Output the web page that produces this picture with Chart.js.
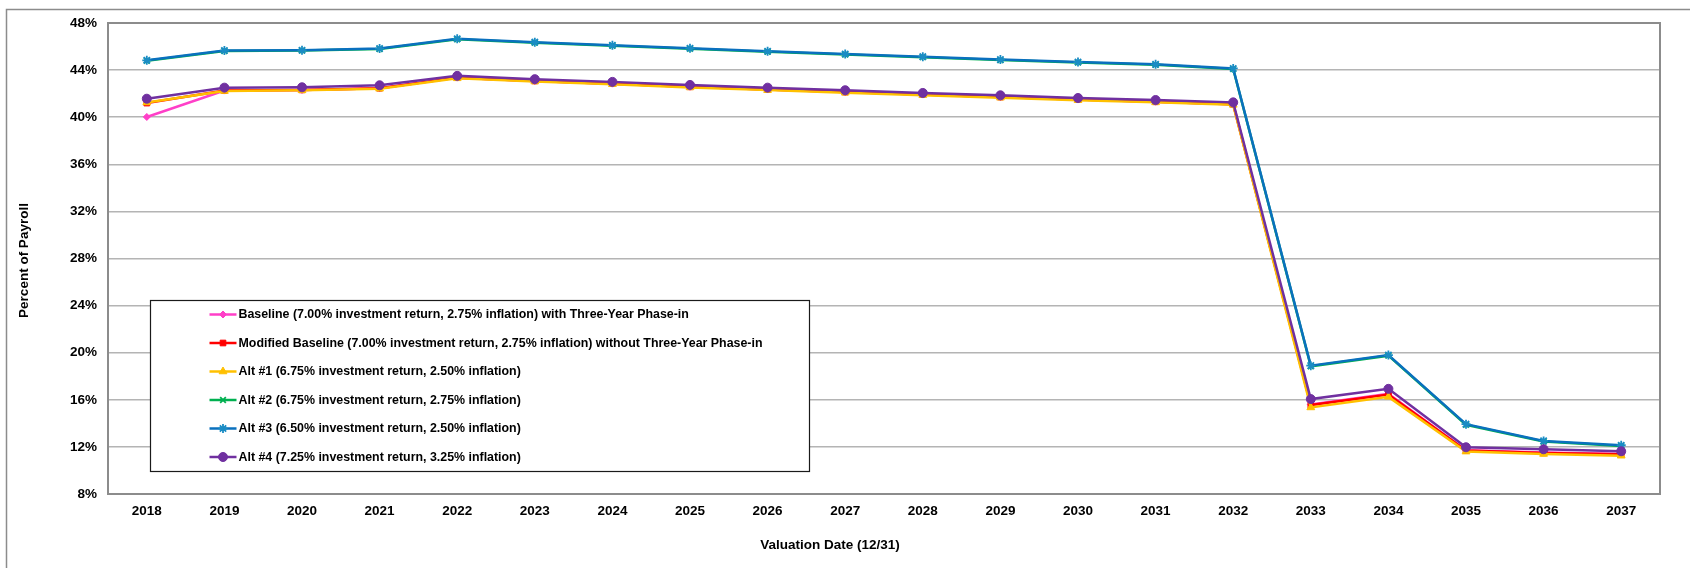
<!DOCTYPE html>
<html>
<head>
<meta charset="utf-8">
<script src="https://cdn.jsdelivr.net/npm/chart.js@4/dist/chart.umd.min.js"></script>
<style>
  html, body { margin: 0; padding: 0; background: #ffffff; }
  #wrap { width: 1690px; height: 568px; }
</style>
</head>
<body>
<div id="wrap"><canvas id="chart" width="1690" height="568"></canvas></div>
<script>
// Valuation years (12/31)
const categories = ['2018','2019','2020','2021','2022','2023','2024','2025','2026','2027',
                    '2028','2029','2030','2031','2032','2033','2034','2035','2036','2037'];

// Contribution rate, percent of payroll
const baseline = [40.02, 42.26, 42.32, 42.46, 43.36, 43.08, 42.85, 42.58, 42.35, 42.13,
                  41.92, 41.71, 41.50, 41.31, 41.10, 15.60, 16.50, 11.72, 11.52, 11.40];
const modifiedBaseline = [41.20, 42.26, 42.32, 42.46, 43.36, 43.08, 42.85, 42.58, 42.35, 42.13,
                          41.92, 41.71, 41.50, 41.31, 41.10, 15.55, 16.45, 11.69, 11.49, 11.38];
const alt1 = [41.25, 42.22, 42.28, 42.42, 43.30, 43.03, 42.80, 42.53, 42.30, 42.08,
              41.87, 41.66, 41.45, 41.26, 41.05, 15.35, 16.25, 11.60, 11.40, 11.25];
const alt2 = [44.80, 45.62, 45.66, 45.79, 46.62, 46.33, 46.07, 45.82, 45.56, 45.33,
              45.10, 44.85, 44.65, 44.45, 44.10, 18.85, 19.75, 13.88, 12.46, 12.08];
const alt3 = [44.83, 45.66, 45.69, 45.83, 46.66, 46.37, 46.11, 45.86, 45.60, 45.37,
              45.14, 44.89, 44.69, 44.49, 44.14, 18.90, 19.80, 13.93, 12.51, 12.14];
const alt4 = [41.57, 42.51, 42.54, 42.71, 43.51, 43.23, 43.00, 42.74, 42.51, 42.29,
              42.06, 41.86, 41.63, 41.46, 41.26, 16.06, 16.93, 11.97, 11.80, 11.63];

const seriesNames = [
  'Baseline (7.00% investment return, 2.75% inflation) with Three-Year Phase-in',
  'Modified Baseline (7.00% investment return, 2.75% inflation) without Three-Year Phase-in',
  'Alt #1 (6.75% investment return, 2.50% inflation)',
  'Alt #2 (6.75% investment return, 2.75% inflation)',
  'Alt #3 (6.50% investment return, 2.50% inflation)',
  'Alt #4 (7.25% investment return, 3.25% inflation)'
];

const yMin = 8, yMax = 48, yStep = 4;
const FONT = '"Liberation Sans", Arial, Helvetica, sans-serif';

const styles = [
  { color: '#FF3FC8', marker: 'rectRot',  radius: 3.5, fill: '#FF3FC8' },
  { color: '#FF0000', marker: 'rect',     radius: 4,   fill: '#FF0000' },
  { color: '#FFC000', marker: 'triangle', radius: 4.5, fill: '#FFC000' },
  { color: '#00B050', marker: 'crossRot', radius: 4,   fill: '#00B050' },
  { color: '#0A70BE', marker: 'star',     radius: 4.5, fill: '#1A8CC4' },
  { color: '#7030A0', marker: 'circle',   radius: 4.5, fill: '#7030A0' }
];

const seriesValues = [baseline, modifiedBaseline, alt1, alt2, alt3, alt4];

const datasets = seriesValues.map((vals, i) => ({
  label: seriesNames[i],
  data: vals,
  borderColor: styles[i].color,
  backgroundColor: styles[i].fill,
  borderWidth: 2.5,
  pointStyle: styles[i].marker,
  pointRadius: styles[i].radius,
  pointBorderColor: styles[i].fill,
  pointBackgroundColor: styles[i].fill,
  pointBorderWidth: (styles[i].marker === 'star' || styles[i].marker === 'crossRot') ? 1.8 : 1,
  tension: 0,
  fill: false,
  order: seriesValues.length - i   // later series drawn on top
}));

// Frame around the whole chart, plot-area border, axis titles and the boxed legend
const decorations = {
  id: 'decorations',
  beforeDraw(chart) {
    const ctx = chart.ctx;
    ctx.save();
    ctx.fillStyle = '#ffffff';
    ctx.fillRect(0, 0, chart.width, chart.height);
    ctx.strokeStyle = '#8c8c8c';
    ctx.lineWidth = 1.5;
    ctx.strokeRect(6.5, 9.5, chart.width + 20, chart.height + 20);
    ctx.restore();
  },
  beforeDatasetsDraw(chart) {
    const ctx = chart.ctx, a = chart.chartArea;
    ctx.save();
    ctx.strokeStyle = '#8c8c8c';
    ctx.lineWidth = 2;
    ctx.strokeRect(a.left, a.top, a.right - a.left, a.bottom - a.top);

    // axis titles
    ctx.fillStyle = '#000000';
    ctx.font = 'bold 13.5px ' + FONT;
    ctx.textAlign = 'center';
    ctx.textBaseline = 'middle';
    ctx.fillText('Valuation Date (12/31)', 830, 545);
    ctx.translate(24, (a.top + a.bottom) / 2 + 2);
    ctx.rotate(-Math.PI / 2);
    ctx.fillText('Percent of Payroll', 0, 0);
    ctx.restore();
  },
  afterDatasetsDraw(chart) {
    const ctx = chart.ctx;
    const box = { x: 150.5, y: 300.5, w: 659, h: 171 };
    ctx.save();
    ctx.fillStyle = '#ffffff';
    ctx.fillRect(box.x, box.y, box.w, box.h);
    ctx.strokeStyle = '#1a1a1a';
    ctx.lineWidth = 1.2;
    ctx.strokeRect(box.x, box.y, box.w, box.h);

    const firstRow = box.y + 14, rowGap = 28.5;
    const x0 = box.x + 59, x1 = box.x + 86;
    chart.data.datasets.forEach((ds, i) => {
      const y = firstRow + i * rowGap;
      ctx.strokeStyle = ds.borderColor;
      ctx.lineWidth = 2.5;
      ctx.beginPath();
      ctx.moveTo(x0, y);
      ctx.lineTo(x1, y);
      ctx.stroke();
      ctx.fillStyle = ds.pointBackgroundColor;
      ctx.strokeStyle = ds.pointBorderColor;
      ctx.lineWidth = ds.pointBorderWidth;
      Chart.helpers.drawPoint(ctx, {
        pointStyle: ds.pointStyle,
        radius: ds.pointRadius,
        rotation: 0,
        borderWidth: ds.pointBorderWidth
      }, (x0 + x1) / 2, y);
      ctx.fillStyle = '#000000';
      ctx.font = 'bold 12.4px ' + FONT;
      ctx.textAlign = 'left';
      ctx.textBaseline = 'middle';
      ctx.fillText(ds.label, x1 + 2, y + 0.5);
    });
    ctx.restore();
  }
};

new Chart(document.getElementById('chart'), {
  type: 'line',
  data: { labels: categories, datasets },
  plugins: [decorations],
  options: {
    responsive: false,
    animation: false,
    devicePixelRatio: 1,
    layout: { padding: { left: 0, top: 23, right: 30, bottom: 0 } },
    plugins: {
      legend: { display: false },
      tooltip: { enabled: false },
      title: { display: false }
    },
    scales: {
      x: {
        offset: true,
        grid: { display: false, drawTicks: false },
        border: { display: false },
        ticks: {
          color: '#000000',
          font: { family: FONT, size: 13.5, weight: 'bold' },
          padding: 9,
          maxRotation: 0,
          autoSkip: false
        },
        afterFit(scale) { scale.height = 74; }
      },
      y: {
        min: yMin,
        max: yMax,
        grid: { color: '#b4b4b4', lineWidth: 1.5, drawTicks: false },
        border: { display: false },
        ticks: {
          stepSize: yStep,
          color: '#000000',
          font: { family: FONT, size: 13.5, weight: 'bold' },
          padding: 11,
          callback: v => v + '%'
        },
        afterFit(scale) { scale.width = 108; }
      }
    }
  }
});
</script>
</body>
</html>
